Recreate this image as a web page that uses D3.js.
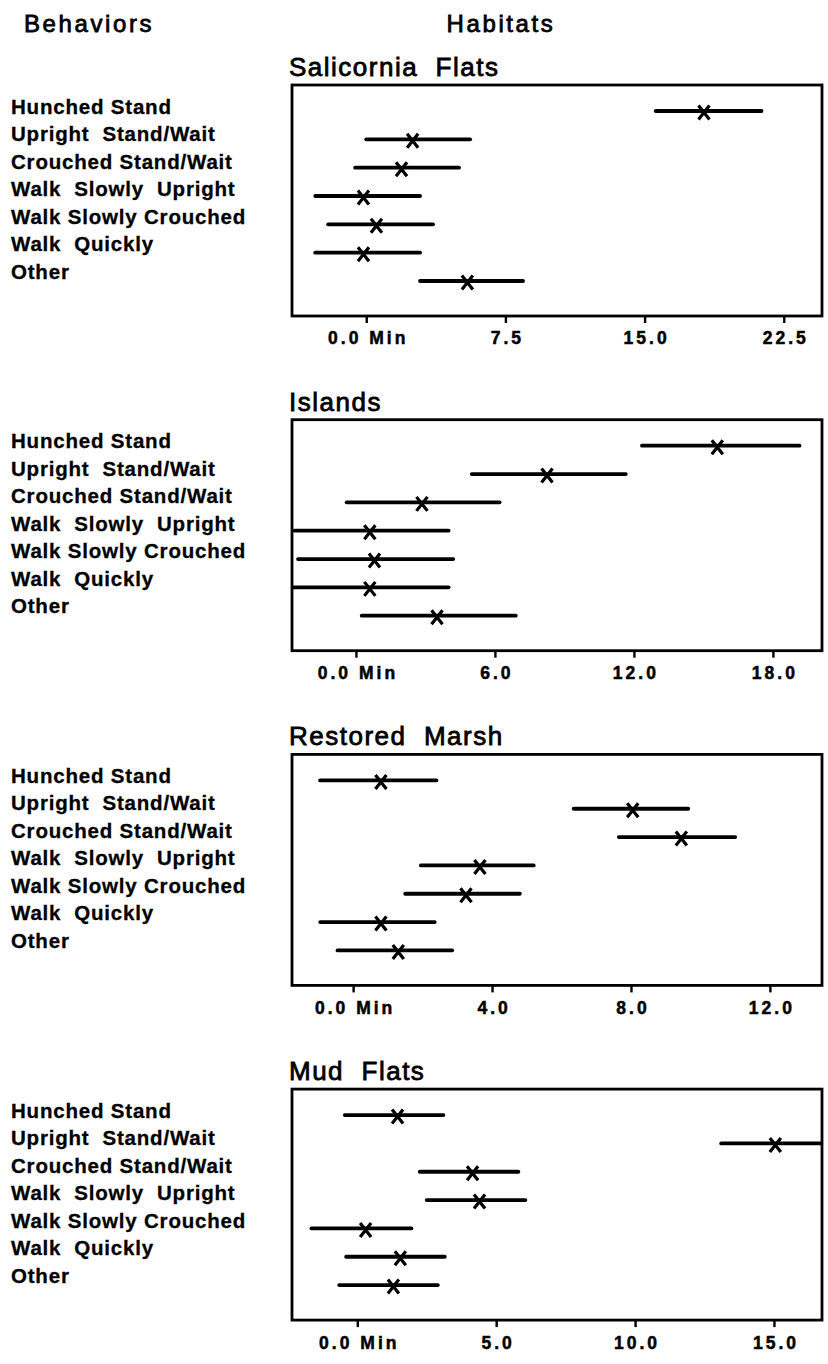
<!DOCTYPE html>
<html>
<head>
<meta charset="utf-8">
<script src="https://cdn.jsdelivr.net/npm/d3@7"></script>
<style>
  html, body { margin: 0; padding: 0; background: #fff; }
  svg { display: block; }
  text { font-family: "Liberation Sans", Arial, Helvetica, sans-serif; fill: #000; white-space: pre; }
</style>
</head>
<body>
<svg id="chart" width="828" height="1364"></svg>
<script>
// ---------- data ----------
const behaviors = ["Hunched Stand", "Upright  Stand/Wait", "Crouched Stand/Wait",
  "Walk  Slowly  Upright", "Walk Slowly Crouched", "Walk  Quickly", "Other"];
const habitats = ["Salicornia  Flats", "Islands", "Restored  Marsh", "Mud  Flats"];

const axisMin = [-4.0, -2.76, -1.76, -2.35];
const axisMax = [24.56, 20.12, 13.5, 16.73];
const tickValues = [[0, 7.5, 15, 22.5], [0, 6, 12, 18], [0, 4, 8, 12], [0, 5, 10, 15]];
const tickLabels = [["0.0 Min", "7.5", "15.0", "22.5"], ["0.0 Min", "6.0", "12.0", "18.0"],
  ["0.0 Min", "4.0", "8.0", "12.0"], ["0.0 Min", "5.0", "10.0", "15.0"]];

const saliLow  = [15.6, 0.0, -0.6, -2.75, -2.05, -2.75, 2.9];
const saliMean = [18.2, 2.5, 1.9, -0.15, 0.55, -0.15, 5.45];
const saliHigh = [21.3, 5.6, 5.0, 2.9, 3.6, 2.9, 8.45];

const islLow  = [12.35, 5.0, -0.4, -2.65, -2.5, -2.75, 0.25];
const islMean = [15.6, 8.25, 2.85, 0.6, 0.8, 0.6, 3.5];
const islHigh = [19.15, 11.65, 6.2, 4.0, 4.2, 4.0, 6.9];

const resLow  = [-0.95, 6.35, 7.65, 1.95, 1.5, -0.95, -0.45];
const resMean = [0.8, 8.05, 9.45, 3.65, 3.25, 0.8, 1.3];
const resHigh = [2.4, 9.65, 11.0, 5.2, 4.8, 2.35, 2.85];

const mudLow  = [-0.45, 13.1, 2.25, 2.5, -1.65, -0.4, -0.65];
const mudMean = [1.45, 15.05, 4.15, 4.4, 0.3, 1.55, 1.3];
const mudHigh = [3.1, 17.0, 5.8, 6.05, 1.95, 3.15, 2.9];

const lows  = [saliLow, islLow, resLow, mudLow];
const means = [saliMean, islMean, resMean, mudMean];
const highs = [saliHigh, islHigh, resHigh, mudHigh];

// ---------- layout ----------
const svg = d3.select("#chart");
const boxLeft = 292, boxRight = 822, boxH = 231;
const firstTop = 85, panelStep = 334.7;

svg.append("text").attr("x", 24).attr("y", 32)
  .style("font-size", "24px").style("letter-spacing", "2.6px")
  .attr("stroke", "#000").attr("stroke-width", 0.8)
  .text("Behaviors");
svg.append("text").attr("x", 501).attr("y", 32).attr("text-anchor", "middle")
  .style("font-size", "24px").style("letter-spacing", "2.6px")
  .attr("stroke", "#000").attr("stroke-width", 0.8)
  .text("Habitats");

habitats.forEach((h, i) => {
  const top = firstTop + i * panelStep;
  const bottom = top + boxH;
  const g = svg.append("g");

  const x = d3.scaleLinear().domain([axisMin[i], axisMax[i]]).range([boxLeft, boxRight]);
  const y = d3.scalePoint().domain(behaviors).range([top + 26, top + 196]);
  const yLab = d3.scalePoint().domain(behaviors).range([top + 28.5, top + 28.5 + 6 * 27.5]);

  // behavior labels
  g.selectAll("text.beh").data(behaviors).join("text")
    .attr("class", "beh")
    .attr("x", 11).attr("y", d => yLab(d))
    .style("font-size", "20.5px").style("font-weight", "bold").style("letter-spacing", "0.8px")
    .attr("stroke", "#000").attr("stroke-width", 0.3)
    .text(d => d);

  // title
  g.append("text").attr("x", 289).attr("y", top - 9)
    .style("font-size", "26px").style("letter-spacing", "1.5px")
    .attr("stroke", "#000").attr("stroke-width", 0.8)
    .text(h);

  // clip
  const clipId = "clip" + i;
  svg.append("clipPath").attr("id", clipId).append("rect")
    .attr("x", boxLeft).attr("y", top).attr("width", boxRight - boxLeft).attr("height", boxH);

  const rows = behaviors.map((b, j) => ({ b, lo: lows[i][j], m: means[i][j], hi: highs[i][j] }));
  const marks = g.append("g").attr("clip-path", `url(#${clipId})`);

  marks.selectAll("line.rng").data(rows).join("line")
    .attr("class", "rng")
    .attr("x1", d => x(d.lo)).attr("x2", d => x(d.hi))
    .attr("y1", d => y(d.b)).attr("y2", d => y(d.b))
    .attr("stroke", "#000").attr("stroke-width", 3.8).attr("stroke-linecap", "round");

  marks.selectAll("path.mean").data(rows).join("path")
    .attr("class", "mean")
    .attr("d", d => {
      const cx = x(d.m), cy = y(d.b) + 1.5;
      return `M${cx - 5.5},${cy - 7}L${cx + 5.5},${cy + 7}M${cx - 5.5},${cy + 7}L${cx + 5.5},${cy - 7}`;
    })
    .attr("stroke", "#000").attr("stroke-width", 3.2).attr("fill", "none");

  // axis ticks + labels
  const axis = d3.axisBottom(x).tickValues(tickValues[i])
    .tickFormat((d, k) => tickLabels[i][k]).tickSize(7).tickPadding(9);
  const ag = g.append("g").attr("transform", `translate(0,${bottom})`).call(axis);
  ag.select(".domain").remove();
  ag.selectAll(".tick line").attr("stroke", "#000").attr("stroke-width", 2.4);
  ag.selectAll(".tick text")
    .attr("font-family", null).attr("font-size", null)
    .style("font-size", "17.5px").style("font-weight", "bold").style("letter-spacing", "3px")
    .attr("stroke", "#000").attr("stroke-width", 0.5)
    .attr("dx", "1.5px").attr("fill", "#000");

  // box
  g.append("rect").attr("x", boxLeft).attr("y", top)
    .attr("width", boxRight - boxLeft).attr("height", boxH)
    .attr("fill", "none").attr("stroke", "#000").attr("stroke-width", 2.8);
});
</script>
</body>
</html>
